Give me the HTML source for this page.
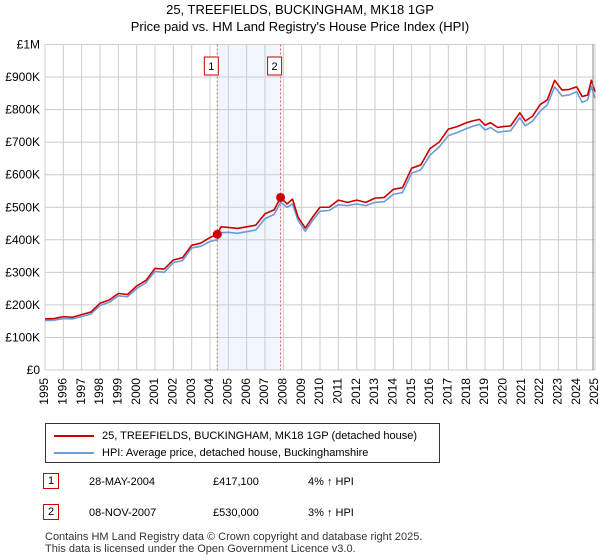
<!DOCTYPE html>
<html><head><meta charset="utf-8">
<style>
body{margin:0;background:#fff;font-family:"Liberation Sans","DejaVu Sans",sans-serif;}
.wrap{position:relative;width:600px;height:560px;overflow:hidden}
</style></head>
<body><div class="wrap">
<svg id="chart" width="600" height="560" font-family="Liberation Sans, DejaVu Sans, sans-serif">
<text x="300" y="14" text-anchor="middle" font-size="13">25, TREEFIELDS, BUCKINGHAM, MK18 1GP</text>
<text x="300" y="31" text-anchor="middle" font-size="13">Price paid vs. HM Land Registry's House Price Index (HPI)</text>
<g id="grid"></g><g id="series"></g><g id="axes"></g>
</svg>
<div style="position:absolute;left:45px;top:423px;width:393px;height:38px;border:1px solid #333;font-size:11px">
 <div style="position:absolute;left:8px;top:6px;display:flex;align-items:center"><span style="display:inline-block;width:40px;height:2px;background:#cc0000;margin-right:8px"></span>25, TREEFIELDS, BUCKINGHAM, MK18 1GP (detached house)</div>
 <div style="position:absolute;left:8px;top:23px;display:flex;align-items:center"><span style="display:inline-block;width:40px;height:2px;background:#6b9bd8;margin-right:8px"></span>HPI: Average price, detached house, Buckinghamshire</div>
</div>
<div style="position:absolute;top:473px;left:0;width:600px;font-size:11px">
 <span style="position:absolute;left:43px;top:0;border:1px solid #cc0000;padding:1px 4px">1</span>
 <span style="position:absolute;left:89px;top:3px">28-MAY-2004</span><span style="position:absolute;left:213px;top:3px">£417,100</span><span style="position:absolute;left:308px;top:3px">4% ↑ HPI</span></div>
<div style="position:absolute;top:504px;left:0;width:600px;font-size:11px">
 <span style="position:absolute;left:43px;top:0;border:1px solid #cc0000;padding:1px 4px">2</span>
 <span style="position:absolute;left:89px;top:3px">08-NOV-2007</span><span style="position:absolute;left:213px;top:3px">£530,000</span><span style="position:absolute;left:308px;top:3px">3% ↑ HPI</span></div>
<div style="position:absolute;left:45px;top:531px;font-size:11px;line-height:12px;color:#333">Contains HM Land Registry data © Crown copyright and database right 2025.<br>This data is licensed under the Open Government Licence v3.0.</div>
</div>
<script>
const years=[1995,1996,1997,1998,1999,2000,2001,2002,2003,2004,2005,2006,2007,2008,2009,2010,2011,2012,2013,2014,2015,2016,2017,2018,2019,2020,2021,2022,2023,2024,2025];
const yTicks=[0,100,200,300,400,500,600,700,800,900,1000];
const yTickLabels=["£0","£100K","£200K","£300K","£400K","£500K","£600K","£700K","£800K","£900K","£1M"];
const seriesDates=[1995,1995.5,1996,1996.5,1997,1997.5,1998,1998.5,1999,1999.5,2000,2000.5,2001,2001.5,2002,2002.5,2003,2003.5,2004,2004.4,2004.6,2005,2005.5,2006,2006.5,2007,2007.5,2007.85,2008.2,2008.5,2008.8,2009.2,2009.6,2010,2010.5,2011,2011.5,2012,2012.5,2013,2013.5,2014,2014.5,2015,2015.5,2016,2016.5,2017,2017.5,2018,2018.3,2018.7,2019,2019.3,2019.7,2020,2020.4,2020.9,2021.2,2021.6,2022,2022.4,2022.8,2023.2,2023.6,2024,2024.3,2024.6,2024.8,2025];
const propertyValues=[157,158,164,162,170,178,205,215,235,232,258,275,312,310,338,345,383,390,407,417,440,438,435,440,445,480,492,530,510,525,470,436,470,500,500,522,515,522,515,528,530,555,560,620,630,680,700,740,748,760,765,770,752,760,745,748,750,790,765,780,815,830,890,860,862,870,840,845,890,855];
const hpiValues=[152,153,158,157,164,172,198,208,228,225,250,268,303,300,330,336,375,380,395,400,422,423,420,425,430,465,478,515,500,510,460,426,460,488,490,508,505,510,505,515,517,540,545,605,615,660,685,720,730,742,748,755,737,745,730,733,735,775,750,765,795,815,870,842,845,855,822,830,872,835];
const sales=[{d:2004.4,v:417.1,n:"1"},{d:2007.85,v:530,n:"2"}];
const X0=45,X1=595,Y0=370,Y1=44.5;
const xs=d=>X0+(d-1995)/30*(X1-X0);
const ys=v=>Y0-v/1000*(Y0-Y1);
const NS="http://www.w3.org/2000/svg";
function mk(p,t,a){const e=document.createElementNS(NS,t);for(const k in a)e.setAttribute(k,a[k]);p.appendChild(e);return e;}
const grid=document.getElementById('grid'),ser=document.getElementById('series'),ax=document.getElementById('axes');
const shade=mk(grid,'rect',{x:xs(sales[0].d),y:Y1,width:xs(sales[1].d)-xs(sales[0].d),height:Y0-Y1,fill:'#eef3fc',opacity:0.8});


years.forEach(y=>{
 const l=mk(grid,'line',{x1:xs(y),x2:xs(y),y1:Y1,y2:Y0,stroke:'#ccc','stroke-width':1});
 
 
 const t=mk(ax,'text',{x:xs(y),y:Y0+8,'font-size':12,transform:`rotate(-90 ${xs(y)} ${Y0+8})`,'text-anchor':'end','dominant-baseline':'middle'});
 t.textContent=y;
 
 
});
yTicks.forEach((v,i)=>{
 const l=mk(grid,'line',{x1:X0,x2:X1,y1:ys(v),y2:ys(v),stroke:'#ccc','stroke-width':1});
 
 
 const t=mk(ax,'text',{x:X0-5,y:ys(v)+4,'font-size':12,'text-anchor':'end'});
 t.textContent=yTickLabels[i];
 
 
});
sales.forEach(s=>{
 const l=mk(ser,'line',{x1:xs(s.d),x2:xs(s.d),y1:Y1,y2:Y0,stroke:'#e05555','stroke-width':1,'stroke-dasharray':'2,2'});
 
 
 const r=mk(ser,'rect',{x:xs(s.d)-20+6,y:57,width:14,height:18,fill:'#fff',stroke:'#cc0000'});
 r.setAttribute('x',xs(s.d)-7-6);
 
 
 const t=mk(ser,'text',{x:xs(s.d)-6,y:70,'font-size':11,'text-anchor':'middle'});
 t.textContent=s.n;
 
 
});
function line(vals,col,name){
 const p=mk(ser,'polyline',{points:seriesDates.map((d,i)=>xs(d)+','+ys(vals[i])).join(' '),fill:'none',stroke:col,'stroke-width':1.6,'stroke-linejoin':'round'});
 
 
}
line(hpiValues,'#6b9bd8','hpi-line');
line(propertyValues,'#cc0000','property-line');
sales.forEach(s=>{
 const c=mk(ser,'circle',{cx:xs(s.d),cy:ys(s.v),r:4.5,fill:'#cc0000'});
 
 
});
const e=mk(ax,'line',{x1:X1-2,x2:X1-2,y1:Y1,y2:Y0,stroke:'#888','stroke-width':1});


</script>
</body></html>
